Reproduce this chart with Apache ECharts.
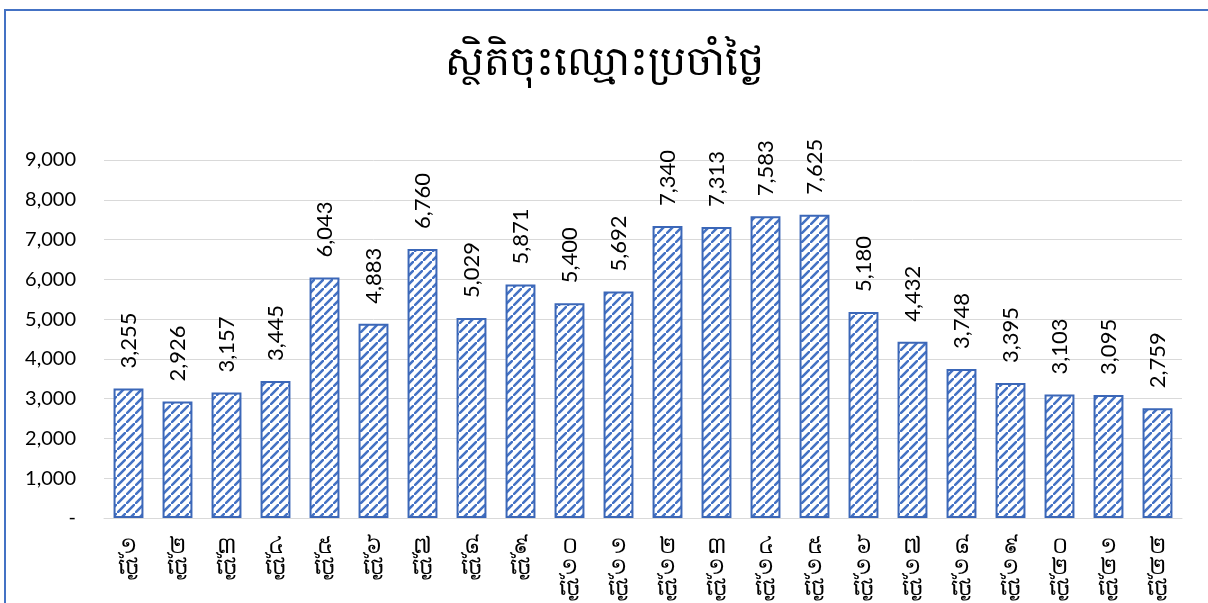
<!DOCTYPE html>
<html>
<head>
<meta charset="utf-8">
<script src="https://cdn.jsdelivr.net/npm/echarts@6/dist/echarts.min.js"></script>
<style>
  html, body { margin: 0; padding: 0; background: #fff; overflow: hidden; }
  .frame {
    position: absolute; left: 4px; top: 9px; width: 1300px; height: 700px;
    border-left: 2px solid #4472C4; border-top: 2px solid #4472C4;
  }
  .chart { position: absolute; left: 0; top: 0; width: 1208px; height: 603px; }
</style>
</head>
<body>
<div class="frame"></div>
<div id="chart" class="chart"></div>
<script>
// Data
const title = 'ស្ថិតិចុះឈ្មោះប្រចាំថ្ងៃ'
const dayWord = 'ថ្ងៃ'
const days = ['១', '២', '៣', '៤', '៥', '៦', '៧', '៨', '៩', '១០', '១១',
  '១២', '១៣', '១៤', '១៥', '១៦', '១៧', '១៨', '១៩', '២០', '២១', '២២']
const categories = days.map(d => dayWord + d)
const registrations = [3255, 2926, 3157, 3445, 6043, 4883, 6760, 5029, 5871, 5400, 5692,
  7340, 7313, 7583, 7625, 5180, 4432, 3748, 3395, 3103, 3095, 2759]
const yTicks = [0, 1000, 2000, 3000, 4000, 5000, 6000, 7000, 8000, 9000]

const blue = '#4472C4'
const fontFamily = 'Lato, "Noto Sans", sans-serif'

// diagonal stripe pattern for the bars
const makeStripes = () => {
  const n = 9
  const c = document.createElement('canvas')
  c.width = n
  c.height = n
  const ctx = c.getContext('2d')
  ctx.fillStyle = '#fff'
  ctx.fillRect(0, 0, n, n)
  ctx.strokeStyle = blue
  ctx.lineWidth = 2.6
  ctx.beginPath()
  ctx.moveTo(-1, n + 1); ctx.lineTo(n + 1, -1)
  ctx.moveTo(-n - 1, 1); ctx.lineTo(1, -n - 1)
  ctx.moveTo(n - 1, 2 * n + 1); ctx.lineTo(2 * n + 1, n - 1)
  ctx.stroke()
  return c
}

const fmt = v => v === 0 ? '-' : v.toLocaleString('en-US')

// stacked vertical label: digits piled above the word, read bottom to top
const stackLabel = s => {
  const digits = s.slice(dayWord.length).split('')
  return digits.reverse().join('\n') + '\n' + dayWord
}

const chart = echarts.init(document.getElementById('chart'))
chart.setOption({
  animation: false,
  title: {
    text: title,
    left: 'center',
    top: 36,
    textStyle: { fontSize: 41, fontWeight: 'normal', color: '#000', fontFamily: fontFamily }
  },
  grid: { left: 104, right: 26, top: 160, bottom: 85 },
  xAxis: {
    type: 'category',
    data: categories,
    axisTick: { show: false },
    axisLine: { lineStyle: { color: '#d9d9d9', width: 1 } },
    axisLabel: {
      interval: 0,
      color: '#000',
      fontSize: 23,
      lineHeight: 21,
      margin: 17,
      fontFamily: fontFamily,
      formatter: stackLabel
    }
  },
  yAxis: {
    type: 'value',
    min: yTicks[0],
    max: yTicks[yTicks.length - 1],
    interval: 1000,
    axisLine: { show: false },
    axisTick: { show: false },
    axisLabel: { color: '#000', fontSize: 20, margin: 28, formatter: fmt, fontFamily: fontFamily },
    splitLine: { lineStyle: { color: '#d9d9d9', width: 1 } }
  },
  series: [{
    type: 'bar',
    data: registrations,
    barWidth: '61%',
    itemStyle: {
      color: { image: makeStripes(), repeat: 'repeat' },
      borderColor: '#3B67B8',
      borderWidth: 2
    },
    label: {
      show: true,
      position: 'top',
      rotate: 90,
      align: 'left',
      verticalAlign: 'middle',
      distance: 20,
      fontSize: 22,
      color: '#000',
      fontFamily: fontFamily,
      formatter: p => fmt(p.value)
    }
  }]
})
</script>
</body>
</html>
